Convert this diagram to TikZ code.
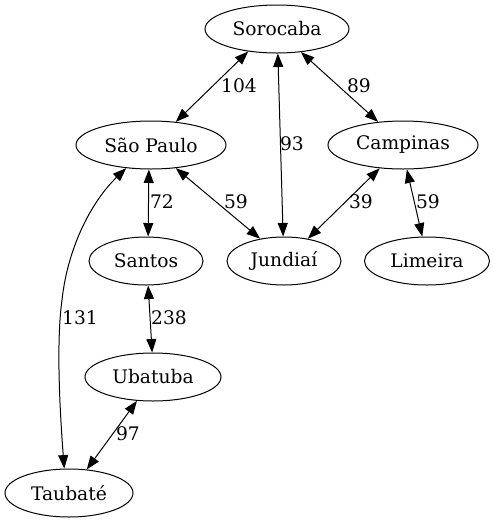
\documentclass[tikz,border=0pt]{standalone}
\usepackage{fontspec}
\setmainfont{DejaVu Serif}
\usetikzlibrary{shapes.geometric,arrows.meta}
\tikzset{
  city/.style={ellipse,draw,line width=1pt,inner sep=0pt,minimum height=48pt,font=\fontsize{18.67}{22}\selectfont},
  lbl/.style={inner sep=0pt,font=\fontsize{18.67}{22}\selectfont},
  road/.style={line width=1pt,{Triangle[length=13.5pt,width=10pt]}-{Triangle[length=13.5pt,width=10pt]}}
}
\begin{document}
\begin{tikzpicture}[x=1pt,y=-1pt]
\useasboundingbox (0,0) rectangle (494,523);
\node[city,minimum width=144pt] (soro) at (277,29) {Sorocaba};
\node[city,minimum width=150pt] (sp) at (151,145) {São Paulo};
\node[city,minimum width=150pt] (camp) at (403,145) {Campinas};
\node[city,minimum width=114pt] (santos) at (146,261) {Santos};
\node[city,minimum width=114pt] (jund) at (284,261) {Jundiaí};
\node[city,minimum width=125pt] (lim) at (427,261) {Limeira};
\node[city,minimum width=136pt] (uba) at (153,377) {Ubatuba};
\node[city,minimum width=128pt] (taub) at (69,493) {Taubaté};

\draw[road] (soro.218.4) -- (sp.43.8);
\draw[road] (soro.272.4) -- (jund.92.5);
\draw[road] (soro.316.2) -- (camp.137.4);
\draw[road] (sp.265) -- (santos.85);
\draw[road] (sp.317.3) -- (jund.137.5);
\draw[road] (sp.223.8) .. controls (93,200) and (68,245) .. (62,300) .. controls (56,343) and (60,413) .. (taub.101.8);
\draw[road] (camp.225) -- (jund.43.7);
\draw[road] (camp.279.9) -- (lim.101.8);
\draw[road] (santos.275) -- (uba.92.4);
\draw[road] (uba.236.3) -- (taub.53.5);

\node[lbl] (l104) at (239,86) {104};
\node[lbl] (l89) at (359,86) {89};
\node[lbl] (l93) at (292,144) {93};
\node[lbl] (l72) at (162,202) {72};
\node[lbl] (l59a) at (236,202) {59};
\node[lbl] (l39) at (361,202) {39};
\node[lbl] (l59b) at (428,202) {59};
\node[lbl] (l131) at (80,318) {131};
\node[lbl] (l238) at (169,318) {238};
\node[lbl] (l97) at (128,434) {97};
\end{tikzpicture}
\end{document}
